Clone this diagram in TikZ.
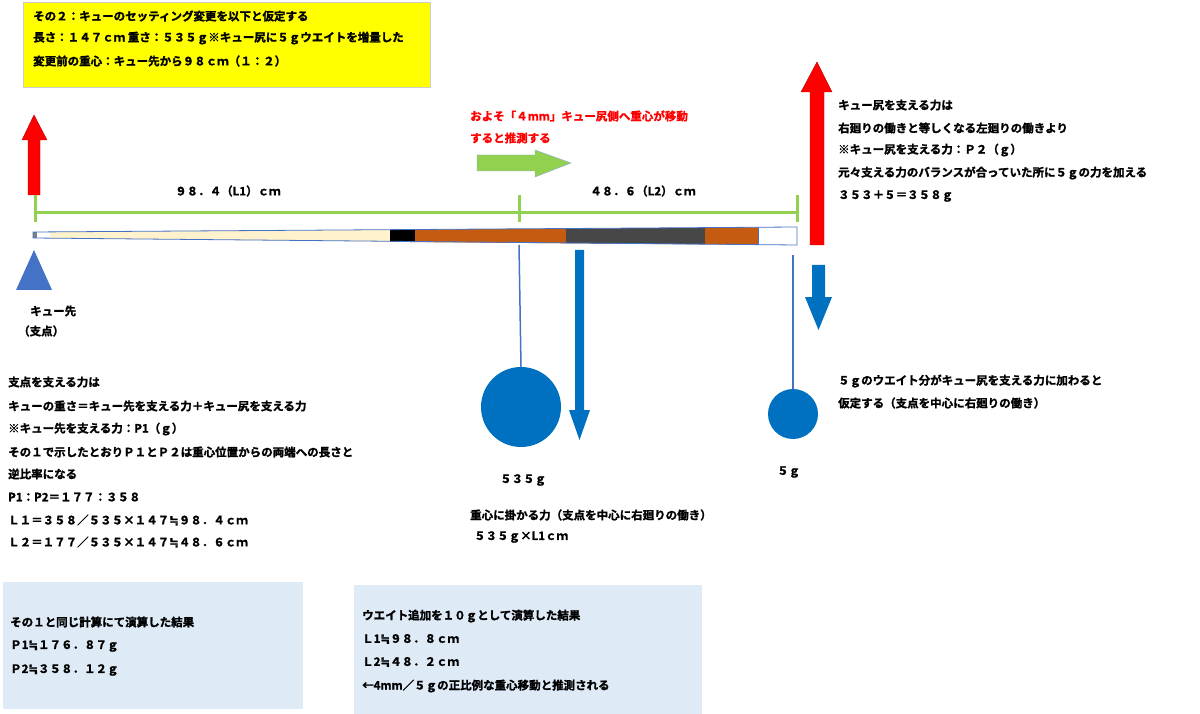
\documentclass[tikz,border=0pt]{standalone}
\usepackage{fontspec}
\setmainfont{Noto Sans CJK JP}[BoldFont={* Bold},BoldFeatures={FakeBold=1.5}]
\newfontfamily\dv{DejaVu Sans}[FakeBold=1.5]
\newcommand{\nreq}{{\dv ≒}}
\usetikzlibrary{shapes.geometric}
\definecolor{ylw}{HTML}{FFFF00}
\definecolor{lgreen}{HTML}{92D050}
\definecolor{cblue}{HTML}{0070C0}
\definecolor{lblue}{HTML}{DEEAF6}
\definecolor{cream}{HTML}{FFF2CC}
\definecolor{orng}{HTML}{C55A11}
\definecolor{outl}{HTML}{4472C4}
\begin{document}
\begin{tikzpicture}[x=1pt,y=-1pt,
  txt/.style={anchor=west,inner sep=0pt,font=\bfseries\fontsize{11.5}{13}\selectfont},
  dim/.style={lgreen,line width=3pt},
  hang/.style={outl,line width=1.5pt}]
\useasboundingbox (0,0) rectangle (1200,714);
% yellow box
\fill[ylw,draw=black!20] (23,2) rectangle (430,87);
\node[txt] (y1) at (33,16) {その２：キューのセッティング変更を以下と仮定する};
\node[txt] (y2) at (33,38) {長さ：１４７ｃｍ 重さ：５３５ｇ※キュー尻に５ｇウエイトを増量した};
\node[txt] (y3) at (33,61) {変更前の重心：キュー先から９８ｃｍ（１：２）};
% left red arrow
\fill[red,draw=red!70!black] (28,195)--(28,140)--(22,140)--(34,115)--(47,140)--(40,140)--(40,195)--cycle;
% dimension line
\coordinate (d0) at (35,213); \coordinate (d1) at (519,213); \coordinate (d2) at (797,213);
\draw[dim] (d0)--(d2);
\draw[dim] (35,195)--(35,222);
\draw[dim] (519,195)--(519,222);
\draw[dim] (797,195)--(797,222);
\node[txt] (l1) at (175,191) {９８．４（L1）ｃｍ};
\node[txt] (l2) at (590,191) {４８．６（L2）ｃｍ};
% cue
\fill[gray] (33,232) rectangle (37,238);
\fill[white] (37,232) -- (50,231.9) -- (50,238.2) -- (37,238.1) -- cycle;
\fill[cream] (50,231.9) -- (390,229.7) -- (390,241.6) -- (50,238.2) -- cycle;
\fill[black] (390,229.7) -- (415,229.5) -- (415,242.1) -- (390,241.6) -- cycle;
\fill[orng] (415,229.5) -- (566,228.6) -- (566,243.3) -- (415,242.1) -- cycle;
\fill[black!72] (566,228.6) -- (705,227.7) -- (705,244.4) -- (566,243.3) -- cycle;
\fill[orng] (705,227.7) -- (758,227.3) -- (758,244.8) -- (705,244.4) -- cycle;
\draw[outl,line width=0.8pt] (33,232) -- (797,227) -- (797,245) -- (33,238) -- cycle;
\draw[outl,line width=0.8pt] (758,227.3) -- (758,244.8);
% fulcrum
\fill[outl] (34,250)--(52,290)--(16,290)--cycle;
\node[txt] (t1) at (30,311) {キュー先};
\node[txt] (t2) at (18,331) {（支点）};
% 535g weight
\node[circle,fill=cblue,minimum size=80pt,inner sep=0pt] (w1) at (521,407) {};
\draw[hang] (519,245) -- (w1.north);
\fill[cblue] (575,250)--(584,250)--(584,410)--(590,410)--(579.5,440)--(569,410)--(575,410)--cycle;
\node[txt] (w1t) at (500,480) {５３５ｇ};
% 5g weight
\node[circle,fill=cblue,minimum size=50pt,inner sep=0pt] (w2) at (793,414) {};
\draw[hang] (793,255) -- (w2.north);
\node[txt] (w2t) at (777,472) {５ｇ};
% right arrows
\fill[red,draw=red!70!black] (810,245)--(810,92)--(801,92)--(817,62)--(832,92)--(824,92)--(824,245)--cycle;
\fill[cblue] (812,265)--(825,265)--(825,297)--(832,297)--(818.5,330)--(805,297)--(812,297)--cycle;
% red text and green arrow
\node[txt,text=red] (r1) at (470,116) {およそ「４mm」キュー尻側へ重心が移動};
\node[txt,text=red] (r2) at (470,138) {すると推測する};
\fill[lgreen,draw=outl!60] (477,155)--(535,155)--(535,150)--(571,163)--(535,177)--(535,171)--(477,171)--cycle;
% right text
\node[txt] (k1) at (838,105) {キュー尻を支える力は};
\node[txt] (k2) at (838,128) {右廻りの働きと等しくなる左廻りの働きより};
\node[txt] (k3) at (838,150) {※キュー尻を支える力：Ｐ２（ｇ）};
\node[txt] (k4) at (838,173) {元々支える力のバランスが合っていた所に５ｇの力を加える};
\node[txt] (k5) at (838,196) {３５３＋５＝３５８ｇ};
\node[txt] (k6) at (838,381) {５ｇのウエイト分がキュー尻を支える力に加わると};
\node[txt] (k7) at (838,403) {仮定する（支点を中心に右廻りの働き）};
% middle text
\node[txt] (m1) at (470,515) {重心に掛かる力（支点を中心に右廻りの働き）};
\node[txt] (m2) at (474,537) {５３５ｇ×L1ｃｍ};
% left text
\node[txt] (a1) at (8,382) {支点を支える力は};
\node[txt] (a2) at (8,406) {キューの重さ＝キュー先を支える力＋キュー尻を支える力};
\node[txt] (a3) at (8,429) {※キュー先を支える力：P1（ｇ）};
\node[txt] (a4) at (8,452) {その１で示したとおりＰ１とＰ２は重心位置からの両端への長さと};
\node[txt] (a5) at (8,474) {逆比率になる};
\node[txt] (a6) at (8,497) {P1：P2＝１７７：３５８};
\node[txt] (a7) at (8,520) {Ｌ１＝３５８／５３５×１４７\nreq ９８．４ｃｍ};
\node[txt] (a8) at (8,542) {Ｌ２＝１７７／５３５×１４７\nreq ４８．６ｃｍ};
% bottom boxes
\fill[lblue] (3,582) rectangle (303,709);
\node[txt] (b1) at (10,622) {その１と同じ計算にて演算した結果};
\node[txt] (b2) at (10,646) {Ｐ1\nreq １７６．８７ｇ};
\node[txt] (b3) at (10,670) {Ｐ2\nreq ３５８．１２ｇ};
\fill[lblue] (354,585) rectangle (702,714);
\node[txt] (c1) at (362,616) {ウエイト追加を１０ｇとして演算した結果};
\node[txt] (c2) at (362,639) {Ｌ1\nreq ９８．８ｃｍ};
\node[txt] (c3) at (362,662) {Ｌ2\nreq ４８．２ｃｍ};
\node[txt] (c4) at (362,686) {←4mm／５ｇの正比例な重心移動と推測される};
\end{tikzpicture}
\end{document}
